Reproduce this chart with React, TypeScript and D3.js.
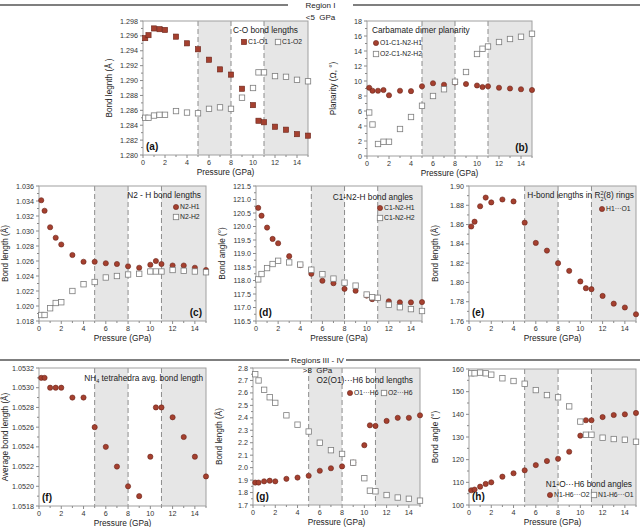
import React from 'react';
import * as d3 from 'd3';

// pressures (GPa) shared by every panel
const pressure = [0.2, 0.5, 1, 1.5, 2, 3, 4, 5, 6, 7, 8, 9, 10, 10.5, 11, 12, 13, 14, 15];
const pressureTicks = [0, 2, 4, 6, 8, 10, 12, 14];
const boundaries = [5, 8, 11];
const shaded: [number, number][] = [[5, 8], [11, 15]];

// (a) C-O bond lengths
const c1o1 = [1.2957, 1.2961, 1.2970, 1.2969, 1.2968, 1.2959, 1.2950, 1.2942, 1.2928, 1.2915, 1.2908, 1.2889, 1.2867, 1.2846, 1.2844, 1.2838, 1.2834, 1.2828, 1.2826];
const c1o2 = [1.2850, 1.2850, 1.2853, 1.2854, 1.2854, 1.2859, 1.2857, 1.2856, 1.2862, 1.2864, 1.2862, 1.2877, 1.2890, 1.2911, 1.2911, 1.2906, 1.2905, 1.2901, 1.2899];
const aTicks = [1.280, 1.282, 1.284, 1.286, 1.288, 1.290, 1.292, 1.294, 1.296, 1.298];

// (b) carbamate dimer planarity
const o1c1n2h1 = [9.1, 8.7, 8.7, 8.8, 8.1, 8.7, 8.65, 9.3, 9.7, 9.5, 9.8, 9.6, 9.4, 9.2, 9.3, 9.1, 9.0, 8.9, 8.8];
const o2c1n2h2 = [5.8, 4.2, 1.6, 1.9, 1.9, 3.6, 5.2, 6.7, 8.0, 8.9, 9.9, 11.2, 13.6, 14.3, 14.6, 15.2, 15.6, 15.9, 16.3];
const bTicks = [0, 2, 4, 6, 8, 10, 12, 14, 16, 18];

// (c) N2-H bond lengths
const n2h1 = [1.0341, 1.0327, 1.0305, 1.0291, 1.0282, 1.0268, 1.0259, 1.0259, 1.0257, 1.0256, 1.0253, 1.0251, 1.0255, 1.0260, 1.0256, 1.0254, 1.0254, 1.0251, 1.0248];
const n2h2 = [1.0188, 1.0188, 1.0197, 1.0204, 1.0205, 1.0220, 1.0229, 1.0232, 1.0238, 1.0240, 1.0242, 1.0243, 1.0246, 1.0246, 1.0246, 1.0248, 1.0247, 1.0246, 1.0245];
const cTicks = [1.018, 1.020, 1.022, 1.024, 1.026, 1.028, 1.030, 1.032, 1.034, 1.036];

// (d) C1-N2-H bond angles
const c1n2h1 = [120.69, 120.40, 119.96, 119.54, 119.38, 118.90, 118.57, 118.25, 117.99, 117.90, 117.69, 117.62, 117.44, 117.31, 117.35, 117.23, 117.19, 117.19, 117.20];
const c1n2h2 = [118.04, 118.24, 118.46, 118.61, 118.73, 118.67, 118.59, 118.40, 118.23, 118.07, 117.92, 117.81, 117.48, 117.38, 117.36, 117.10, 117.01, 116.94, 116.87];
const dTicks = [116.5, 117, 117.5, 118, 118.5, 119, 119.5, 120, 120.5, 121, 121.5];

// (e) H-bond lengths in R2^2(8) rings
const h1o1 = [1.858, 1.863, 1.879, 1.888, 1.883, 1.886, 1.884, 1.862, 1.841, 1.833, 1.820, 1.812, 1.801, 1.794, 1.793, 1.786, 1.778, 1.774, 1.767];
const eTicks = [1.76, 1.78, 1.80, 1.82, 1.84, 1.86, 1.88, 1.90];

// (f) NH4 tetrahedra avg. bond length
const nh4 = [1.0531, 1.0531, 1.0530, 1.0530, 1.0530, 1.0529, 1.0529, 1.0526, 1.0524, 1.0522, 1.0520, 1.0519, 1.0523, 1.0528, 1.0528, 1.0527, 1.0525, 1.0523, 1.0521];
const fTicks = [1.0518, 1.0520, 1.0522, 1.0524, 1.0526, 1.0528, 1.0530, 1.0532];

// (g) O2(O1)...H6 bond lengths
const o1h6 = [1.88, 1.88, 1.89, 1.895, 1.89, 1.91, 1.92, 1.935, 1.975, 1.995, 2.01, 2.04, 2.18, 2.34, 2.335, 2.375, 2.40, 2.40, 2.42];
const o2h6 = [2.75, 2.70, 2.625, 2.565, 2.52, 2.42, 2.345, 2.29, 2.20, 2.14, 2.11, 2.04, 1.915, 1.815, 1.81, 1.78, 1.76, 1.75, 1.735];
const gTicks = [1.7, 1.8, 1.9, 2.0, 2.1, 2.2, 2.3, 2.4, 2.5, 2.6, 2.7, 2.8];

// (h) N1-O...H6 bond angles
const n1h6o2 = [106.5, 106.8, 108.1, 109.3, 110.0, 112.5, 114.0, 115.3, 117.6, 119.4, 120.4, 123.5, 130.6, 137.4, 137.4, 138.8, 139.7, 140.0, 140.6];
const n1h6o1 = [158.1, 158.1, 158.4, 158.1, 157.5, 155.9, 154.7, 153.5, 150.7, 148.5, 147.5, 143.5, 136.8, 131.0, 131.0, 129.7, 129.1, 128.8, 127.9];
const hTicks = [100, 110, 120, 130, 140, 150, 160];

const FONT = '"Liberation Sans", Arial, sans-serif';
const RED = '#a5402f';
const RED_EDGE = '#6a2419';
const GREY = '#7d7d7d';

type Marker = 'circle' | 'square' | 'open';

interface LegendItem { label: string; marker: Marker; x: number; y: number; }

interface PanelIF {
    left: number; right: number; top: number; bottom: number;
    yTicks: number[];
    yFormat: string;
    yTitle: string;
    letter: string;
    letterRight?: boolean;
    series: { values: number[]; marker: Marker }[];
    title: React.ReactNode;
    titleX: number; titleY: number; titleAnchor: 'start' | 'end';
    legend: LegendItem[];
}

const MarkerShape = ({ m, x, y }: { m: Marker; x: number; y: number }) => {
    if (m === 'circle') return <circle cx={x} cy={y} r={2.6} fill={RED} stroke={RED_EDGE} strokeWidth={0.6} />;
    if (m === 'square') return <rect x={x - 2.6} y={y - 2.6} width={5.2} height={5.2} fill={RED} stroke={RED_EDGE} strokeWidth={0.6} />;
    return <rect x={x - 2.7} y={y - 2.7} width={5.4} height={5.4} fill="#fff" stroke={GREY} strokeWidth={0.8} />;
};

const Panel: React.FC<PanelIF> = (p) => {
    const x = d3.scaleLinear().domain([0, 15]).range([p.left, p.right]);
    const yDom = d3.extent(p.yTicks) as [number, number];
    const y = d3.scaleLinear().domain(yDom).range([p.bottom, p.top]);
    const fmt = d3.format(p.yFormat);
    const step = p.yTicks[1] - p.yTicks[0];
    const minor = p.yTicks.slice(0, -1).map(t => t + step / 2);
    const midY = (p.top + p.bottom) / 2;
    const tickColor = '#8a8a8a';
    return (
        <g>
            {shaded.map(([a, b], i) => (
                <rect key={i} x={x(a)} y={p.top} width={x(b) - x(a)} height={p.bottom - p.top} fill="#e6e6e6" />
            ))}
            {boundaries.map(b => (
                <line key={b} x1={x(b)} x2={x(b)} y1={p.top} y2={p.bottom} stroke="#8c8c8c" strokeWidth={1} strokeDasharray="5,3" />
            ))}
            <rect x={p.left} y={p.top} width={p.right - p.left} height={p.bottom - p.top} fill="none" stroke="#a0a0a0" strokeWidth={1} />
            {/* y axis */}
            {p.yTicks.map(t => (
                <g key={t}>
                    <line x1={p.left - 3} x2={p.left} y1={y(t)} y2={y(t)} stroke={tickColor} />
                    <text x={p.left - 5} y={y(t) + 2.5} textAnchor="end" fontSize={7.2} fill="#333">{fmt(t)}</text>
                </g>
            ))}
            {minor.map(t => <line key={t} x1={p.left - 2} x2={p.left} y1={y(t)} y2={y(t)} stroke={tickColor} />)}
            <text transform={`translate(${p.left - 31},${midY}) rotate(-90)`} textAnchor="middle" fontSize={8.2} fill="#222">{p.yTitle}</text>
            {/* x axis */}
            {d3.range(0, 16).map(t => (
                <line key={t} x1={x(t)} x2={x(t)} y1={p.bottom} y2={p.bottom + (t % 2 ? 2 : 3)} stroke={tickColor} />
            ))}
            {pressureTicks.map(t => (
                <text key={t} x={x(t)} y={p.bottom + 10} textAnchor="middle" fontSize={7.2} fill="#333">{t}</text>
            ))}
            <text x={(p.left + p.right) / 2} y={p.bottom + 20} textAnchor="middle" fontSize={8.3} fill="#222">Pressure (GPa)</text>
            {/* marks */}
            {p.series.map((s, si) => (
                <g key={si}>
                    {s.values.map((v, i) => <MarkerShape key={i} m={s.marker} x={x(pressure[i])} y={y(v)} />)}
                </g>
            ))}
            {/* legend */}
            <text x={p.titleX} y={p.titleY} textAnchor={p.titleAnchor} fontSize={8.3} fill="#222">{p.title}</text>
            {p.legend.map(l => (
                <g key={l.label}>
                    <MarkerShape m={l.marker} x={l.x} y={l.y} />
                    <text x={l.x + 4} y={l.y + 2.4} fontSize={6.8} fill="#222">{l.label}</text>
                </g>
            ))}
            <text x={p.letterRight ? p.right - 4 : p.left + 3} y={p.bottom - 5} textAnchor={p.letterRight ? 'end' : 'start'} fontSize={10} fontWeight="bold" fill="#111">{p.letter}</text>
        </g>
    );
};

const Divider = ({ y, x1, x2, label, sub, gap }: { y: number; x1: number; x2: number; label: string; sub: string; gap: number }) => (
    <g>
        <line x1={0} x2={x1} y1={y} y2={y} stroke="#555" strokeWidth={1.5} />
        <line x1={x2} x2={640} y1={y} y2={y} stroke="#555" strokeWidth={1.5} />
        <text x={(x1 + x2) / 2} y={y + 3} textAnchor="middle" fontSize={8} fill="#222">{label}</text>
        <text x={(x1 + x2) / 2} y={y + gap} textAnchor="middle" fontSize={8} fill="#222" style={{ whiteSpace: 'pre' }}>{sub}</text>
    </g>
);

export default function App() {
    return (
        <svg width={640} height={527} style={{ position: 'absolute', left: 0, top: 0, background: '#fff' }} fontFamily={FONT}>
            <Panel left={143} right={308} top={21} bottom={155}
                yTicks={aTicks} yFormat=".3f" yTitle="Bond legnth (Å )" letter="(a)"
                series={[{ values: c1o1, marker: 'square' }, { values: c1o2, marker: 'open' }]}
                title="C-O bond lengths" titleX={298} titleY={33} titleAnchor="end"
                legend={[{ label: 'C1-O1', marker: 'square', x: 244, y: 42 }, { label: 'C1-O2', marker: 'open', x: 278, y: 42 }]} />

            <Panel left={367} right={532} top={21} bottom={156}
                yTicks={bTicks} yFormat="d" yTitle="Planarity (Ω, °)" letter="(b)" letterRight
                series={[{ values: o1c1n2h1, marker: 'circle' }, { values: o2c1n2h2, marker: 'open' }]}
                title="Carbamate dimer planarity" titleX={372} titleY={33} titleAnchor="start"
                legend={[{ label: 'O1-C1-N2-H1', marker: 'circle', x: 376, y: 43 }, { label: 'O2-C1-N2-H2', marker: 'open', x: 376, y: 54 }]} />

            <Panel left={39} right={206} top={186} bottom={321}
                yTicks={cTicks} yFormat=".3f" yTitle="Bond length (Å)" letter="(c)" letterRight
                series={[{ values: n2h1, marker: 'circle' }, { values: n2h2, marker: 'open' }]}
                title="N2 - H bond lengths" titleX={201} titleY={198} titleAnchor="end"
                legend={[{ label: 'N2-H1', marker: 'circle', x: 176, y: 207 }, { label: 'N2-H2', marker: 'open', x: 176, y: 217 }]} />

            <Panel left={256} right={422} top={186} bottom={321}
                yTicks={dTicks} yFormat=".1f" yTitle="Bond angle (°)" letter="(d)"
                series={[{ values: c1n2h1, marker: 'circle' }, { values: c1n2h2, marker: 'open' }]}
                title="C1-N2-H bond angles" titleX={413} titleY={200} titleAnchor="end"
                legend={[{ label: 'C1-N2-H1', marker: 'circle', x: 380, y: 208 }, { label: 'C1-N2-H2', marker: 'open', x: 380, y: 218 }]} />

            <Panel left={469} right={636} top={186} bottom={321}
                yTicks={eTicks} yFormat=".2f" yTitle="Bond length (Å)" letter="(e)"
                series={[{ values: h1o1, marker: 'circle' }]}
                title={<>H-bond lengths in R<tspan dy={-3} fontSize={5.5}>2</tspan><tspan dx={-3.1} dy={6} fontSize={5.5}>2</tspan><tspan dy={-3}>(8) rings</tspan></>}
                titleX={634} titleY={198} titleAnchor="end"
                legend={[{ label: 'H1···O1', marker: 'circle', x: 602, y: 209 }]} />

            <Panel left={39} right={206} top={368} bottom={506}
                yTicks={fTicks} yFormat=".4f" yTitle="Average bond length (Å)" letter="(f)"
                series={[{ values: nh4, marker: 'circle' }]}
                title={<>NH<tspan dy={2} fontSize={5.5}>4</tspan><tspan dy={-2}> tetrahedra avg. bond length</tspan></>}
                titleX={203} titleY={381} titleAnchor="end"
                legend={[]} />

            <Panel left={253} right={420} top={368} bottom={505}
                yTicks={gTicks} yFormat=".1f" yTitle="Bond length (Å)" letter="(g)"
                series={[{ values: o1h6, marker: 'circle' }, { values: o2h6, marker: 'open' }]}
                title="O2(O1)···H6 bond lengths" titleX={413} titleY={383} titleAnchor="end"
                legend={[{ label: 'O1···H6', marker: 'circle', x: 350, y: 393 }, { label: 'O2···H6', marker: 'open', x: 384, y: 393 }]} />

            <Panel left={469} right={636} top={369} bottom={505}
                yTicks={hTicks} yFormat="d" yTitle="Bond angle (°)" letter="(h)"
                series={[{ values: n1h6o2, marker: 'circle' }, { values: n1h6o1, marker: 'open' }]}
                title="N1-O···H6 bond angles" titleX={632} titleY={487} titleAnchor="end"
                legend={[{ label: 'N1-H6···O2', marker: 'circle', x: 550, y: 495 }, { label: 'N1-H6···O1', marker: 'open', x: 594, y: 495 }]} />

            {/* region dividers drawn last so their labels sit above the plot frames */}
            <Divider y={5} x1={288} x2={353} label="Region I" sub="<5  GPa" gap={15} />
            <Divider y={360} x1={289} x2={346} label="Regions III - IV" sub=">8  GPa" gap={12.5} />
        </svg>
    );
}
